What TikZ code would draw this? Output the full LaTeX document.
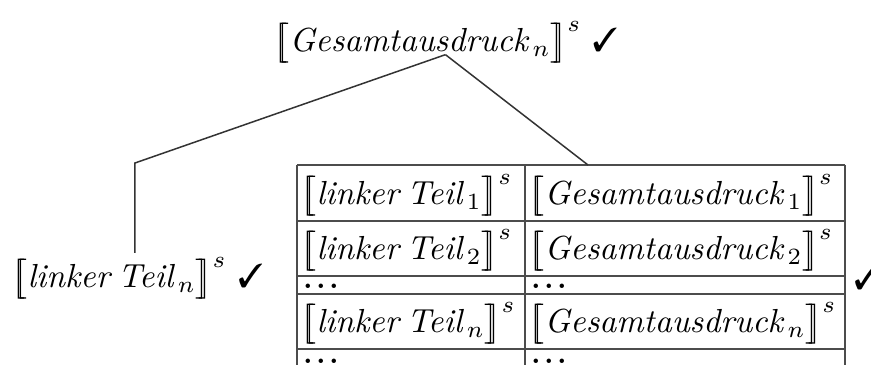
\documentclass[tikz,border=0pt]{standalone}
\usepackage{pifont}
\newcommand\lbrk{\mathopen{\big[\mkern-6mu\big[}}
\newcommand\rbrk{\mathclose{\big]\mkern-6mu\big]}}
\newcommand\semb[2]{$\lbrk\textit{#1}_{\mkern3mu #2}\rbrk^{s}$}
\newcommand\celldots{\scalebox{1.25}{.\kern0.4pt.\kern0.4pt.}}
\begin{document}
\begin{tikzpicture}[x=0.3pt,y=-0.3pt,
  lbl/.style={anchor=base west,inner sep=0pt,outer sep=0pt},
  edge/.style={draw=black!80,line width=0.45pt},
  grid/.style={draw=black!70,line width=0.45pt}]
\useasboundingbox (0,0) rectangle (871,365);
% top node
\node[lbl] (top) at (273,52) {\semb{Gesamtausdruck}{n} \ding{51}};
\coordinate (apex) at ([yshift=-0.8pt]top.base);
% left child
\node[lbl] (left) at (11,288) {\semb{linker\hspace{2.4pt}Teil}{n} \ding{51}};
\coordinate (lcorner) at (135,163);
\coordinate (lend) at (135,253);
% table
\coordinate (tabtop) at (588,165);
\foreach \yy in {165,221,276,294,349} \draw[grid] (297,\yy) -- (845,\yy);
\foreach \xx in {297,525,845} \draw[grid] (\xx,165) -- (\xx,372);
\node[lbl] (a1) at (300,205) {\semb{linker\hspace{2.4pt}Teil}{1}};
\node[lbl] (b1) at (528,205) {\semb{Gesamtausdruck}{1}};
\node[lbl] (a2) at (300,260) {\semb{linker\hspace{2.4pt}Teil}{2}};
\node[lbl] (b2) at (528,260) {\semb{Gesamtausdruck}{2}};
\node[lbl] (a3) at (302,289) {\celldots};
\node[lbl] (b3) at (530,289) {\celldots};
\node[lbl] (an) at (300,333) {\semb{linker\hspace{2.4pt}Teil}{n}};
\node[lbl] (bn) at (528,333) {\semb{Gesamtausdruck}{n}};
\node[lbl] (a5) at (302,364) {\celldots};
\node[lbl] (b5) at (530,364) {\celldots};
\node[lbl] (rcheck) at (854,290) {\ding{51}};
% connectors
\draw[edge] (apex) -- (lcorner) -- (lend);
\draw[edge] (apex) -- (tabtop);
\end{tikzpicture}
\end{document}
